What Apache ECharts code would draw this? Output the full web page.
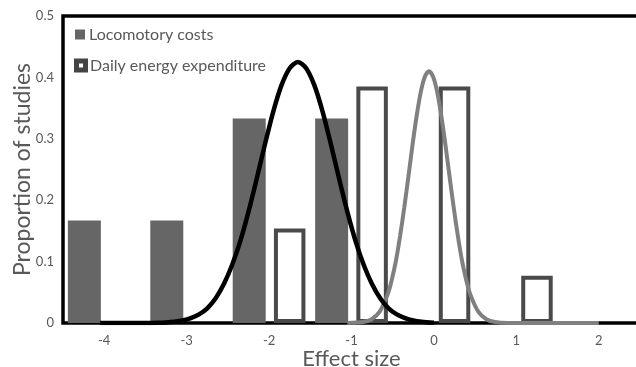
<!DOCTYPE html>
<html><head><meta charset="utf-8">
<script src="https://cdn.jsdelivr.net/npm/echarts@6/dist/echarts.min.js"></script>
<style>html,body{margin:0;padding:0;background:#fff}#c{width:636px;height:367px}</style>
</head><body><div id="c"></div>
<script>
// ---- data ----
const xTickValues = [-4, -3, -2, -1, 0, 1, 2];
const locoName = 'Locomotory costs';
const deeName = 'Daily energy expenditure';
const locoX = [-4.25, -3.25, -2.25, -1.25];
const locoY = [0.167, 0.167, 0.333, 0.333];
const deeX = [-1.75, -0.75, 0.25, 1.25];
const deeY = [0.154, 0.385, 0.385, 0.077];
const locoCurveX = [-4.05, -3.6, -3.35, -3.25, -3.15, -3.05, -2.95, -2.85, -2.75, -2.65, -2.55, -2.45, -2.35, -2.25, -2.15, -2.05, -1.95, -1.85, -1.75, -1.65, -1.55, -1.45, -1.35, -1.25, -1.15, -1.05, -0.95, -0.85, -0.75, -0.65, -0.55, -0.45, -0.35, -0.25, -0.15, 0.0];
const locoCurveY = [0, 0, 0.0005, 0.001, 0.0021, 0.0041, 0.0078, 0.014, 0.024, 0.040, 0.063, 0.094, 0.133, 0.181, 0.235, 0.291, 0.344, 0.387, 0.415, 0.425, 0.415, 0.387, 0.344, 0.291, 0.235, 0.181, 0.133, 0.094, 0.063, 0.040, 0.024, 0.014, 0.0078, 0.0041, 0.0021, 0.0005];
const deeCurveX = [-1.05, -0.86, -0.76, -0.66, -0.56, -0.51, -0.46, -0.41, -0.36, -0.31, -0.26, -0.21, -0.16, -0.11, -0.06, -0.01, 0.04, 0.09, 0.14, 0.19, 0.24, 0.29, 0.34, 0.39, 0.44, 0.54, 0.64, 0.74, 0.9, 2.0];
const deeCurveY = [0, 0.0016, 0.0058, 0.018, 0.047, 0.071, 0.102, 0.142, 0.188, 0.238, 0.290, 0.337, 0.376, 0.401, 0.41, 0.401, 0.376, 0.337, 0.290, 0.238, 0.188, 0.142, 0.102, 0.071, 0.047, 0.018, 0.0058, 0.0016, 0.0001, 0];

// ---- build ----
const zip = (a, b) => a.map((v, i) => [v, b[i]]);
const FONT = 'Lato';
const TXT = '#595959';
const chart = echarts.init(document.getElementById('c'), null, {renderer: 'canvas'});
chart.setOption({
  animation: false,
  backgroundColor: '#fff',
  textStyle: {fontFamily: FONT},
  grid: {left: 63, top: 16, width: 577, height: 307, containLabel: false, outerBoundsMode: 'none',
         show: true, borderColor: '#000', borderWidth: 3.5, backgroundColor: 'transparent'},
  legend: [
    {data: [{name: locoName, icon: 'rect'}], left: 75, top: 26.5, padding: 0, itemWidth: 10, itemHeight: 10, itemGap: 0,
     textStyle: {color: TXT, fontSize: 16, fontFamily: FONT, padding: [0, 0, 0, -1]}},
    {data: [{name: deeName, icon: 'path://M0,0L14,0L14,14L0,14Z M5,5L5,9L9,9L9,5Z',
             itemStyle: {color: '#444444', borderWidth: 0}}],
     left: 74, top: 57.5, padding: 0, itemWidth: 14, itemHeight: 14, itemGap: 0,
     textStyle: {color: TXT, fontSize: 16, fontFamily: FONT, padding: [0, 0, 0, -3]}}
  ],
  xAxis: {
    type: 'value', min: -4.5, max: 2.5,
    name: 'Effect size', nameLocation: 'middle', nameGap: 25, nameMoveOverlap: false,
    nameTextStyle: {color: TXT, fontSize: 22, fontFamily: FONT},
    axisLine: {show: false}, axisTick: {show: false}, splitLine: {show: false},
    axisLabel: {customValues: xTickValues, color: TXT, fontSize: 13, margin: 11, fontFamily: FONT}
  },
  yAxis: {
    type: 'value', min: 0, max: 0.5, interval: 0.1,
    name: 'Proportion of studies', nameLocation: 'middle', nameGap: 29, nameRotate: 90, nameMoveOverlap: false,
    nameTextStyle: {color: TXT, fontSize: 23, fontFamily: FONT},
    axisLine: {show: false}, axisTick: {show: false}, splitLine: {show: false},
    axisLabel: {color: TXT, fontSize: 13, margin: 9, fontFamily: FONT}
  },
  series: [
    {name: locoName, type: 'bar', data: zip(locoX, locoY), barWidth: 33, barGap: '-100%',
     itemStyle: {color: '#666666'}},
    {name: 'dee-curve', type: 'line', data: zip(deeCurveX, deeCurveY), smooth: 0.3, showSymbol: false,
     lineStyle: {color: '#808080', width: 4}},
    {name: deeName, type: 'bar', data: zip(deeX, deeY), barWidth: 31.5, barGap: '-100%',
     itemStyle: {color: '#ffffff', borderColor: '#4a4a4a', borderWidth: 4}},
    {name: 'loco-curve', type: 'line', data: zip(locoCurveX, locoCurveY), smooth: 0.3, showSymbol: false,
     lineStyle: {color: '#000000', width: 4.5}}
  ]
});
</script>
</body></html>
